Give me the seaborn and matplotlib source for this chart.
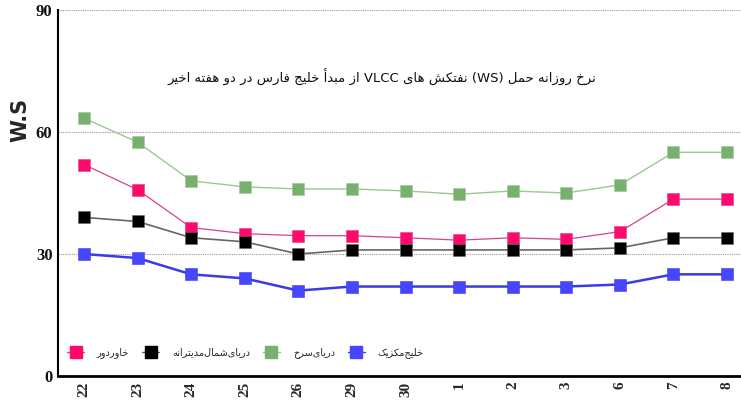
import matplotlib
matplotlib.use("Agg")
import matplotlib.pyplot as plt
from matplotlib.lines import Line2D
import seaborn as sns
import pandas as pd

# ---------------- data ----------------
days = ["22", "23", "24", "25", "26", "29", "30", "1", "2", "3", "6", "7", "8"]
far_east = [52, 45.8, 36.5, 35, 34.5, 34.5, 34, 33.4, 34, 33.6, 35.5, 43.5, 43.5]
north_sea_med = [39, 38, 34, 33, 30, 31, 31, 31, 31, 31, 31.5, 34, 34]
red_sea = [63.4, 57.5, 48, 46.5, 46, 46, 45.5, 44.7, 45.5, 45, 47, 55, 55]
gulf_mexico = [30, 29, 25, 24, 21, 22, 22, 22, 22, 22, 22.5, 25, 25]
series_names = ["خاوردور", "دریای‌شمال‌مدیترانه", "دریای‌سرخ", "خلیج‌مکزیک"]
title_text = "نرخ روزانه حمل (WS) نفتکش های VLCC از مبدأ خلیج فارس در دو هفته اخیر"
y_ticks = [0, 30, 60, 90]

# ---------------- minimal Persian shaping ----------------
FORMS = {
    "\u0627": ("\uFE8D", "\uFE8E", None, None),
    "\u0623": ("\uFE83", "\uFE84", None, None),
    "\u0628": ("\uFE8F", "\uFE90", "\uFE91", "\uFE92"),
    "\u062A": ("\uFE95", "\uFE96", "\uFE97", "\uFE98"),
    "\u062C": ("\uFE9D", "\uFE9E", "\uFE9F", "\uFEA0"),
    "\u062D": ("\uFEA1", "\uFEA2", "\uFEA3", "\uFEA4"),
    "\u062E": ("\uFEA5", "\uFEA6", "\uFEA7", "\uFEA8"),
    "\u062F": ("\uFEA9", "\uFEAA", None, None),
    "\u0631": ("\uFEAD", "\uFEAE", None, None),
    "\u0632": ("\uFEAF", "\uFEB0", None, None),
    "\u0633": ("\uFEB1", "\uFEB2", "\uFEB3", "\uFEB4"),
    "\u0634": ("\uFEB5", "\uFEB6", "\uFEB7", "\uFEB8"),
    "\u0641": ("\uFED1", "\uFED2", "\uFED3", "\uFED4"),
    "\u0644": ("\uFEDD", "\uFEDE", "\uFEDF", "\uFEE0"),
    "\u0645": ("\uFEE1", "\uFEE2", "\uFEE3", "\uFEE4"),
    "\u0646": ("\uFEE5", "\uFEE6", "\uFEE7", "\uFEE8"),
    "\u0647": ("\uFEE9", "\uFEEA", "\uFEEB", "\uFEEC"),
    "\u0648": ("\uFEED", "\uFEEE", None, None),
    "\u06A9": ("\uFB8E", "\uFB8F", "\uFB90", "\uFB91"),
    "\u06CC": ("\uFBFC", "\uFBFD", "\uFBFE", "\uFBFF"),
}


def _shape_word(w):
    chars = [c for c in w]
    out = []
    for i, c in enumerate(chars):
        if c not in FORMS:
            if c != "\u200c":
                out.append(c)
            continue
        prev = chars[i - 1] if i > 0 else None
        nxt = chars[i + 1] if i + 1 < len(chars) else None
        join_prev = prev in FORMS and FORMS[prev][2] is not None
        join_next = nxt in FORMS and FORMS[c][2] is not None
        iso, fin, ini, med = FORMS[c]
        if join_prev and join_next:
            out.append(med)
        elif join_prev:
            out.append(fin)
        elif join_next:
            out.append(ini)
        else:
            out.append(iso)
    return "".join(reversed(out))


def fa(text):
    words = text.split(" ")
    res = []
    for w in words:
        if any(c in FORMS for c in w):
            res.append(_shape_word(w))
        else:
            res.append(w)
    return " ".join(reversed(res))


# ---------------- frame ----------------
rows = []
for name, vals in zip(series_names, [far_east, north_sea_med, red_sea, gulf_mexico]):
    for i, (d, v) in enumerate(zip(days, vals)):
        rows.append({"pos": i, "day": d, "series": name, "value": v})
df = pd.DataFrame(rows)

line_colors = {series_names[0]: "#d0448e", series_names[1]: "#666666",
               series_names[2]: "#98c98f", series_names[3]: "#3a3ae6"}
marker_colors = {series_names[0]: "#ff0a6c", series_names[1]: "#000000",
                 series_names[2]: "#79b06f", series_names[3]: "#4646ff"}
line_widths = {series_names[0]: 0.9, series_names[1]: 1.2,
               series_names[2]: 1.0, series_names[3]: 1.8}

sns.set_style("white")
plt.rcParams["font.family"] = ["DejaVu Sans"]

fig = plt.figure(figsize=(7.41, 4.03), dpi=100)
ax = fig.add_axes([58 / 741, 1 - 376 / 403, 1 - 58 / 741, 366 / 403])

for name in series_names:
    sub = df[df["series"] == name]
    sns.lineplot(data=sub, x="pos", y="value", ax=ax, color=line_colors[name],
                 linewidth=line_widths[name], legend=False, zorder=2)
    sns.scatterplot(data=sub, x="pos", y="value", ax=ax, color=marker_colors[name],
                    marker="s", s=80, linewidth=0.4, edgecolor=line_colors[name],
                    legend=False, zorder=3)

ax.set_ylim(0, 90)
ax.set_xlim(-0.485, 12.26)
ax.set_yticks(y_ticks)
ax.set_yticklabels([str(t) for t in y_ticks], family="Liberation Serif",
                   fontsize=12, fontweight="bold", color="#111111")
ax.set_xticks(range(len(days)))
ax.set_xticklabels(days, rotation=90, family="Liberation Serif",
                   fontsize=11, fontweight="bold")
ax.tick_params(axis="both", length=0, pad=4)
ax.set_xlabel("")
ax.set_ylabel("")

for t in y_ticks[1:]:
    ax.axhline(t, color="#999999", linestyle=(0, (1, 1)), linewidth=0.8, zorder=1)

for s in ["top", "right"]:
    ax.spines[s].set_visible(False)
ax.spines["left"].set_color("black")
ax.spines["left"].set_linewidth(1.5)
ax.spines["bottom"].set_color("black")
ax.spines["bottom"].set_linewidth(2.0)

fig.text(20 / 741, 1 - 120 / 403, "W.S", rotation=90, ha="center", va="center",
         fontsize=15, fontweight="heavy", family="DejaVu Sans")

ax.text(0.475, 0.817, fa(title_text), transform=ax.transAxes, ha="center",
        va="center", fontsize=9.5, color="#111111")

handles = [Line2D([0], [0], color=line_colors[n], lw=1.0, marker="s",
                  markerfacecolor=marker_colors[n], markeredgecolor=marker_colors[n],
                  markersize=8) for n in series_names]
ax.legend(handles, [fa(n) for n in series_names], ncol=4, loc="lower left",
          bbox_to_anchor=(0.0, 0.025), frameon=False, fontsize=7,
          handlelength=1.8, handletextpad=1.3, columnspacing=1.3)

fig.savefig("out.png", dpi=100)
